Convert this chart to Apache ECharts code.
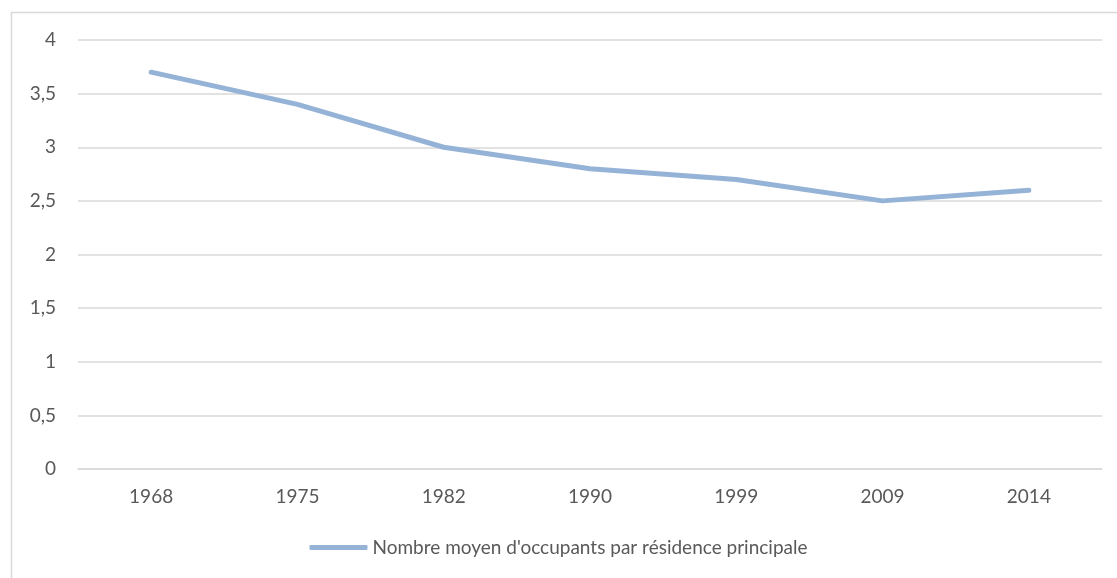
<!DOCTYPE html>
<html>
<head>
<meta charset="utf-8">
<script src="https://cdn.jsdelivr.net/npm/echarts@6/dist/echarts.min.js"></script>
<style>html,body{margin:0;padding:0;background:#fff;}#c{width:1117px;height:578px;}</style>
</head>
<body>
<div id="c"></div>
<script>
const categories = ['1968', '1975', '1982', '1990', '1999', '2009', '2014'];
const occupants = [3.7, 3.4, 3.0, 2.8, 2.7, 2.5, 2.6];
const seriesName = "Nombre moyen d'occupants par résidence principale";

const chart = echarts.init(document.getElementById('c'));
const FONT = 'Lato, "Open Sans", sans-serif';
chart.setOption({
  animation: false,
  backgroundColor: '#fff',
  graphic: [{
    type: 'rect', left: 9, top: 10,
    shape: { width: 1200, height: 700 },
    style: { fill: 'none', stroke: '#d9d9d9', lineWidth: 1.5 },
    silent: true
  }],
  grid: { left: 78, right: 15, top: 40, bottom: 109, containLabel: false },
  legend: {
    bottom: 16, left: 'center',
    icon: 'roundRect', itemWidth: 58, itemHeight: 5, itemGap: 0,
    textStyle: { color: '#595959', fontSize: 19, fontFamily: FONT },
    data: [seriesName]
  },
  xAxis: {
    type: 'category', data: categories, boundaryGap: true,
    axisLine: { lineStyle: { color: '#d9d9d9', width: 1.5 } },
    axisTick: { show: false },
    axisLabel: { color: '#595959', fontSize: 19, fontFamily: FONT, margin: 18 }
  },
  yAxis: {
    type: 'value', min: 0, max: 4, interval: 0.5,
    axisLine: { show: false }, axisTick: { show: false },
    splitLine: { lineStyle: { color: '#d9d9d9', width: 1.5 } },
    axisLabel: {
      color: '#595959', fontSize: 19, fontFamily: FONT, margin: 22,
      formatter: v => String(v).replace('.', ',')
    }
  },
  series: [{
    name: seriesName, type: 'line', data: occupants,
    symbol: 'none', smooth: false,
    lineStyle: { color: '#95b3d7', width: 5, cap: 'round', join: 'round' },
    itemStyle: { color: '#95b3d7' }
  }]
});
</script>
</body>
</html>
